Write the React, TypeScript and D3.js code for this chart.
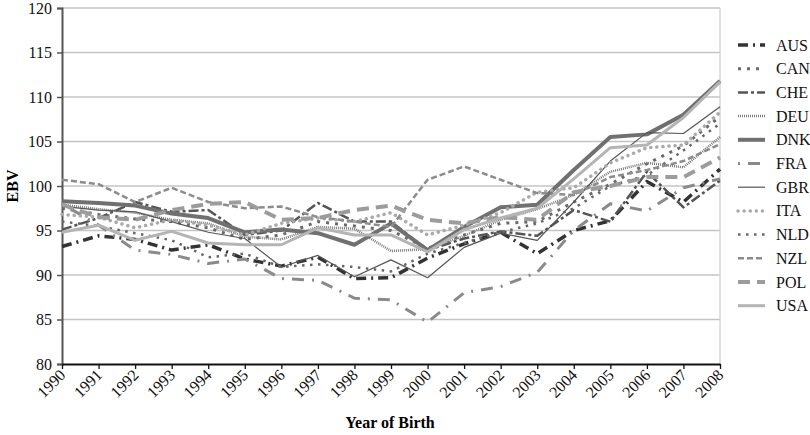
import { useEffect, useRef } from "react";
import * as d3 from "d3";

const years = d3.range(1990, 2009);
const yTicks = [80, 85, 90, 95, 100, 105, 110, 115, 120];

const AUS = [93.2, 94.4, 94.0, 92.8, 93.4, 91.8, 91.0, 92.0, 89.6, 89.7, 91.9, 93.5, 94.8, 92.4, 95.0, 96.1, 100.5, 98.2, 101.9];
const CAN = [97.5, 96.8, 96.3, 96.0, 95.3, 94.0, 94.5, 96.0, 95.5, 95.0, 93.0, 94.5, 95.8, 96.0, 98.2, 100.2, 102.5, 104.5, 107.8];
const CHE = [95.1, 96.4, 98.2, 97.1, 97.3, 94.5, 95.0, 98.1, 96.0, 96.0, 92.8, 94.1, 94.9, 94.4, 97.3, 96.0, 101.6, 97.6, 100.6];
const DEU = [97.9, 97.4, 97.0, 96.2, 95.8, 94.3, 94.0, 95.4, 95.2, 92.7, 92.9, 94.4, 96.2, 97.4, 99.0, 101.6, 102.6, 102.1, 105.5];
const DNK = [98.3, 98.1, 97.8, 96.9, 96.4, 94.8, 95.1, 94.7, 93.4, 95.8, 92.8, 95.4, 97.6, 97.9, 101.8, 105.5, 105.8, 108.0, 111.8];
const FRA = [98.0, 95.6, 92.8, 92.3, 91.3, 91.8, 89.6, 89.4, 87.4, 87.2, 84.7, 88.0, 88.7, 90.3, 95.0, 98.0, 97.2, 99.8, 100.8];
const GBR = [97.7, 97.3, 97.1, 96.0, 94.8, 94.1, 90.9, 92.2, 89.8, 91.7, 89.7, 93.1, 94.7, 93.9, 98.2, 102.8, 106.0, 105.9, 108.9];
const ITA = [96.8, 96.5, 95.3, 96.2, 95.6, 94.5, 95.8, 96.4, 96.0, 97.0, 94.5, 95.6, 97.0, 99.3, 99.8, 102.6, 104.3, 104.6, 108.3];
const NLD = [96.0, 95.5, 94.7, 93.9, 92.0, 92.4, 90.9, 91.2, 90.9, 90.4, 92.4, 93.6, 94.8, 95.8, 97.5, 100.0, 101.2, 104.0, 107.0];
const NZL = [100.7, 100.2, 98.2, 99.8, 98.2, 97.5, 97.7, 96.5, 96.0, 95.4, 100.7, 102.2, 100.7, 99.2, 99.0, 101.0, 101.8, 102.8, 104.7];
const POL = [97.9, 96.5, 96.2, 97.3, 98.0, 98.2, 96.2, 96.4, 97.3, 97.8, 96.2, 95.8, 96.5, 96.2, 99.3, 100.0, 101.0, 101.0, 103.2];
const USA = [94.8, 95.6, 93.9, 94.9, 93.6, 93.4, 93.4, 95.3, 94.5, 94.5, 92.6, 95.1, 96.4, 97.5, 100.8, 104.3, 104.6, 107.7, 111.7];

const seriesNames = ["AUS", "CAN", "CHE", "DEU", "DNK", "FRA", "GBR", "ITA", "NLD", "NZL", "POL", "USA"];
const seriesValues = [AUS, CAN, CHE, DEU, DNK, FRA, GBR, ITA, NLD, NZL, POL, USA];

// line looks per country (grayscale print)
const styles: Record<string, { color: string; width: number; dash: string; cap: string }> = {
  AUS: { color: "#333333", width: 3.5, dash: "10,5,2,5", cap: "butt" },
  CAN: { color: "#6a6a6a", width: 3, dash: "3,6", cap: "butt" },
  CHE: { color: "#555555", width: 2.5, dash: "10,3,3,3", cap: "butt" },
  DEU: { color: "#7a7a7a", width: 2.5, dash: "1,1", cap: "butt" },
  DNK: { color: "#707070", width: 4, dash: "none", cap: "butt" },
  FRA: { color: "#8a8a8a", width: 3, dash: "2,8,12,8", cap: "butt" },
  GBR: { color: "#555555", width: 1.2, dash: "none", cap: "butt" },
  ITA: { color: "#aaaaaa", width: 3.5, dash: "0.1,6", cap: "round" },
  NLD: { color: "#666666", width: 2.5, dash: "2.5,5.5", cap: "butt" },
  NZL: { color: "#8c8c8c", width: 2.5, dash: "6,3", cap: "butt" },
  POL: { color: "#9c9c9c", width: 4, dash: "12,7", cap: "butt" },
  USA: { color: "#b4b4b4", width: 3, dash: "none", cap: "butt" },
};

export default function App() {
  const ref = useRef<SVGSVGElement>(null);

  useEffect(() => {
    const svg = d3.select(ref.current);
    svg.selectAll("*").remove();

    const left = 62, right = 720, top = 8, bottom = 364;
    const x = d3.scaleLinear().domain([1990, 2008]).range([left, right]);
    const y = d3.scaleLinear().domain([80, 120]).range([bottom, top]);
    const font = "'Liberation Serif', 'Times New Roman', serif";

    // grid
    svg.append("g")
      .selectAll("line")
      .data(yTicks.filter((t) => t > 80))
      .join("line")
      .attr("x1", left).attr("x2", right)
      .attr("y1", (d) => y(d)).attr("y2", (d) => y(d))
      .attr("stroke", "#c4c4c4").attr("stroke-width", 1.3);

    svg.append("line")
      .attr("x1", right).attr("x2", right).attr("y1", top).attr("y2", bottom)
      .attr("stroke", "#d0d0d0").attr("stroke-width", 1.3);

    // y axis
    const yAxis = svg.append("g")
      .attr("transform", `translate(${left},0)`)
      .call(d3.axisLeft(y).tickValues(yTicks).tickSize(5).tickPadding(5));
    yAxis.select(".domain").attr("stroke", "#555").attr("stroke-width", 2);
    yAxis.selectAll(".tick line").attr("stroke", "#555").attr("stroke-width", 1.5);
    yAxis.selectAll("text")
      .attr("font-family", font).attr("font-size", 16).attr("fill", "#111");

    // x axis
    const xAxis = svg.append("g")
      .attr("transform", `translate(0,${bottom})`)
      .call(d3.axisBottom(x).tickValues(years).tickFormat(d3.format("d")).tickSize(5).tickSizeOuter(0));
    xAxis.select(".domain").attr("stroke", "#111").attr("stroke-width", 1.8);
    xAxis.selectAll(".tick line").attr("stroke", "#111").attr("stroke-width", 1.3);
    xAxis.selectAll("text")
      .attr("font-family", font).attr("font-size", 16).attr("fill", "#111")
      .attr("text-anchor", "end")
      .attr("dy", null)
      .attr("y", 0)
      .attr("transform", "translate(4,12) rotate(-45)");

    // series
    const line = d3.line<number>()
      .x((_, i) => x(years[i]))
      .y((d) => y(d));

    seriesNames.forEach((name, k) => {
      const s = styles[name];
      svg.append("path")
        .datum(seriesValues[k])
        .attr("d", line)
        .attr("fill", "none")
        .attr("stroke", s.color)
        .attr("stroke-width", s.width)
        .attr("stroke-dasharray", s.dash)
        .attr("stroke-linecap", s.cap)
        .attr("stroke-linejoin", "round");
    });

    // legend
    const legend = svg.append("g");
    seriesNames.forEach((name, k) => {
      const s = styles[name];
      const ly = 45 + k * 23.7;
      legend.append("line")
        .attr("x1", 738).attr("x2", 765).attr("y1", ly).attr("y2", ly)
        .attr("stroke", s.color)
        .attr("stroke-width", s.width)
        .attr("stroke-dasharray", s.dash)
        .attr("stroke-linecap", s.cap);
      legend.append("text")
        .attr("x", 776).attr("y", ly + 5.5)
        .attr("font-family", font).attr("font-size", 16).attr("fill", "#111")
        .text(name);
    });

    // axis titles
    svg.append("text")
      .attr("transform", `translate(18,${(top + bottom) / 2}) rotate(-90)`)
      .attr("text-anchor", "middle")
      .attr("font-family", font).attr("font-size", 16).attr("font-weight", "bold")
      .text("EBV");

    svg.append("text")
      .attr("x", 390).attr("y", 428)
      .attr("text-anchor", "middle")
      .attr("font-family", font).attr("font-size", 16).attr("font-weight", "bold")
      .text("Year of Birth");
  }, []);

  return (
    <svg
      ref={ref}
      width={810}
      height={435}
      style={{ position: "absolute", left: 0, top: 0, background: "#fff" }}
    />
  );
}
